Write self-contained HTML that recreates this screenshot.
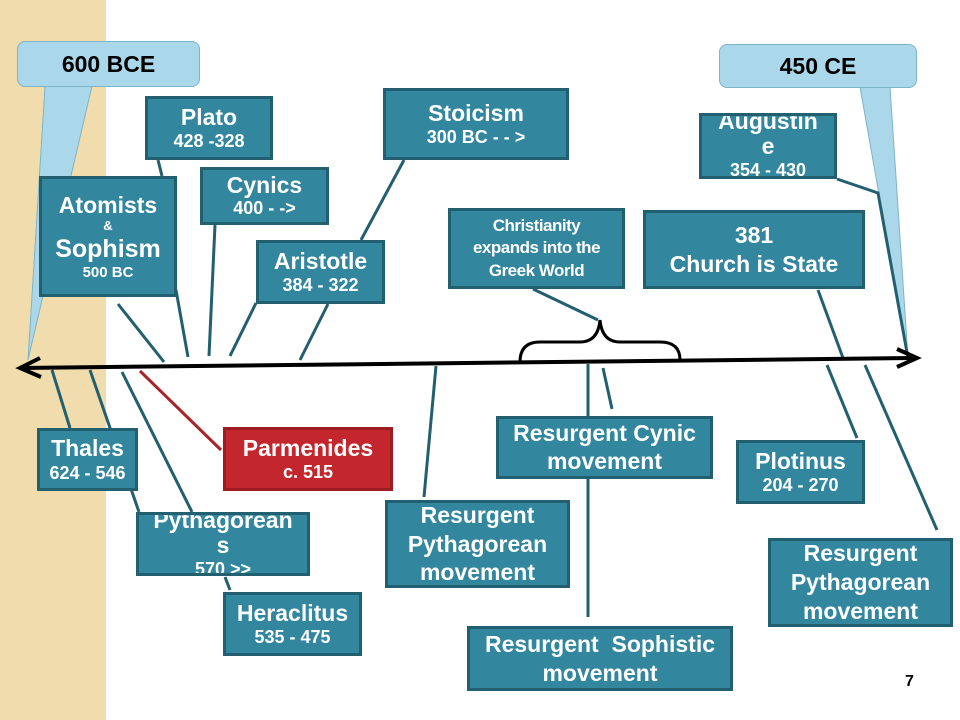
<!DOCTYPE html>
<html><head><meta charset="utf-8"><style>
html,body{margin:0;padding:0}
body{width:960px;height:720px;position:relative;overflow:hidden;background:#fff;font-family:"Liberation Sans",Arial,sans-serif}
.strip{position:absolute;left:0;top:0;width:106px;height:720px;background:#f1dcae}
.b{position:absolute;box-sizing:border-box;background:#32869d;border:3px solid #22606f;color:#fff;font-weight:bold;text-align:center;display:flex;flex-direction:column;justify-content:center;align-items:center;line-height:1.15;overflow:hidden;white-space:nowrap}
.t{font-size:23px;line-height:1.2}.s{font-size:18px}
.r{background:#c4262d;border-color:#9d1c22}
.call{position:absolute;box-sizing:border-box;background:#aad7ea;border:1px solid #7fb4c8;border-radius:8px;font-weight:bold;font-size:23px;color:#000;display:flex;justify-content:center;align-items:center}
svg{position:absolute;left:0;top:0}
</style></head><body>
<div class="strip"></div>
<svg width="960" height="720">
<g fill="#aad7ea" stroke="#7fb4c8" stroke-width="1">
<polygon points="45,86 92,86 28,360"/>
<polygon points="860,87 890,87 908,358"/>
</g>
<g stroke="#22606f" stroke-width="3" fill="none">
<line x1="118" y1="304" x2="164" y2="362"/>
<line x1="176" y1="290" x2="188" y2="357"/>
<line x1="158" y1="160" x2="162" y2="176"/>
<line x1="215" y1="225" x2="209" y2="356"/>
<line x1="256" y1="303" x2="230" y2="356"/>
<line x1="328" y1="304" x2="300" y2="360"/>
<line x1="404" y1="160" x2="361" y2="240"/>
<line x1="52" y1="370" x2="70" y2="428"/>
<line x1="90" y1="370" x2="139" y2="512"/>
<line x1="122" y1="372" x2="192" y2="512"/>
<line x1="225" y1="577" x2="230" y2="590"/>
<line x1="436" y1="366" x2="424" y2="497"/>
<line x1="588" y1="364" x2="588" y2="617"/>
<line x1="603" y1="368" x2="612" y2="409"/>
<line x1="533" y1="289" x2="598" y2="320"/>
<line x1="818" y1="290" x2="843" y2="358"/>
<line x1="827" y1="365" x2="857" y2="438"/>
<line x1="865" y1="365" x2="937" y2="530"/>
<polyline points="837,179 878,193 908,358"/>
</g>
<line x1="140" y1="371" x2="221" y2="450" stroke="#a8232a" stroke-width="3"/>
<path d="M520,362 Q520,342 540,342 L580,342 Q598,342 600,320 Q602,342 620,342 L660,342 Q680,342 680,360" stroke="#000" stroke-width="3" fill="none"/>
<line x1="20" y1="368" x2="916" y2="358" stroke="#000" stroke-width="4"/>
<polyline points="40,358 20,368 41,377" stroke="#000" stroke-width="4" fill="none"/>
<polyline points="897,349 917,358 897,367" stroke="#000" stroke-width="4" fill="none"/>
</svg>
<div class="call" style="left:17px;top:41px;width:183px;height:46px">600 BCE</div>
<div class="call" style="left:719px;top:44px;width:198px;height:44px">450 CE</div>
<div class="b" style="left:145px;top:96px;width:128px;height:64px"><span class="t">Plato</span><span class="s">428 -328</span></div>
<div class="b" style="left:383px;top:88px;width:186px;height:72px"><span class="t">Stoicism</span><span class="s">300 BC - - &gt;</span></div>
<div class="b" style="left:699px;top:113px;width:138px;height:66px;justify-content:flex-start"><span class="t" style="margin-top:-7px;line-height:1.1">Augustin<br>e</span><span class="s" style="margin-top:0px">354 - 430</span></div>
<div class="b" style="left:200px;top:167px;width:129px;height:58px"><span class="t" style="line-height:1.1">Cynics</span><span class="s">400 - -&gt;</span></div>
<div class="b" style="left:39px;top:176px;width:138px;height:121px"><span class="t">Atomists</span><span style="font-size:13px">&amp;</span><span style="font-size:25px;line-height:1.2">Sophism</span><span style="font-size:15px">500 BC</span></div>
<div class="b" style="left:448px;top:208px;width:177px;height:81px"><span style="font-size:17px;line-height:1.3;letter-spacing:-0.5px">Christianity<br>expands into the<br>Greek World</span></div>
<div class="b" style="left:643px;top:210px;width:222px;height:79px"><span class="t" style="line-height:1.25">381<br>Church is State</span></div>
<div class="b" style="left:256px;top:240px;width:129px;height:64px"><span class="t">Aristotle</span><span class="s">384 - 322</span></div>
<div class="b" style="left:37px;top:428px;width:101px;height:63px"><span class="t">Thales</span><span class="s">624 - 546</span></div>
<div class="b r" style="left:223px;top:427px;width:170px;height:64px"><span class="t">Parmenides</span><span class="s">c. 515</span></div>
<div class="b" style="left:136px;top:512px;width:174px;height:64px;justify-content:flex-start"><span class="t" style="margin-top:-7px;line-height:1.1">Pythagorean<br>s</span><span class="s" style="margin-top:0px">570 &gt;&gt;</span></div>
<div class="b" style="left:223px;top:592px;width:139px;height:64px"><span class="t">Heraclitus</span><span class="s">535 - 475</span></div>
<div class="b" style="left:496px;top:416px;width:217px;height:63px"><span class="t">Resurgent Cynic<br>movement</span></div>
<div class="b" style="left:385px;top:500px;width:185px;height:88px"><span class="t" style="line-height:1.26">Resurgent<br>Pythagorean<br>movement</span></div>
<div class="b" style="left:736px;top:440px;width:129px;height:64px"><span class="t">Plotinus</span><span class="s">204 - 270</span></div>
<div class="b" style="left:768px;top:538px;width:185px;height:89px"><span class="t" style="line-height:1.26">Resurgent<br>Pythagorean<br>movement</span></div>
<div class="b" style="left:467px;top:626px;width:266px;height:65px"><span class="t" style="line-height:1.26">Resurgent&nbsp; Sophistic<br>movement</span></div>
<div style="position:absolute;left:905px;top:673px;font-weight:bold;font-size:16px">7</div>
</body></html>
